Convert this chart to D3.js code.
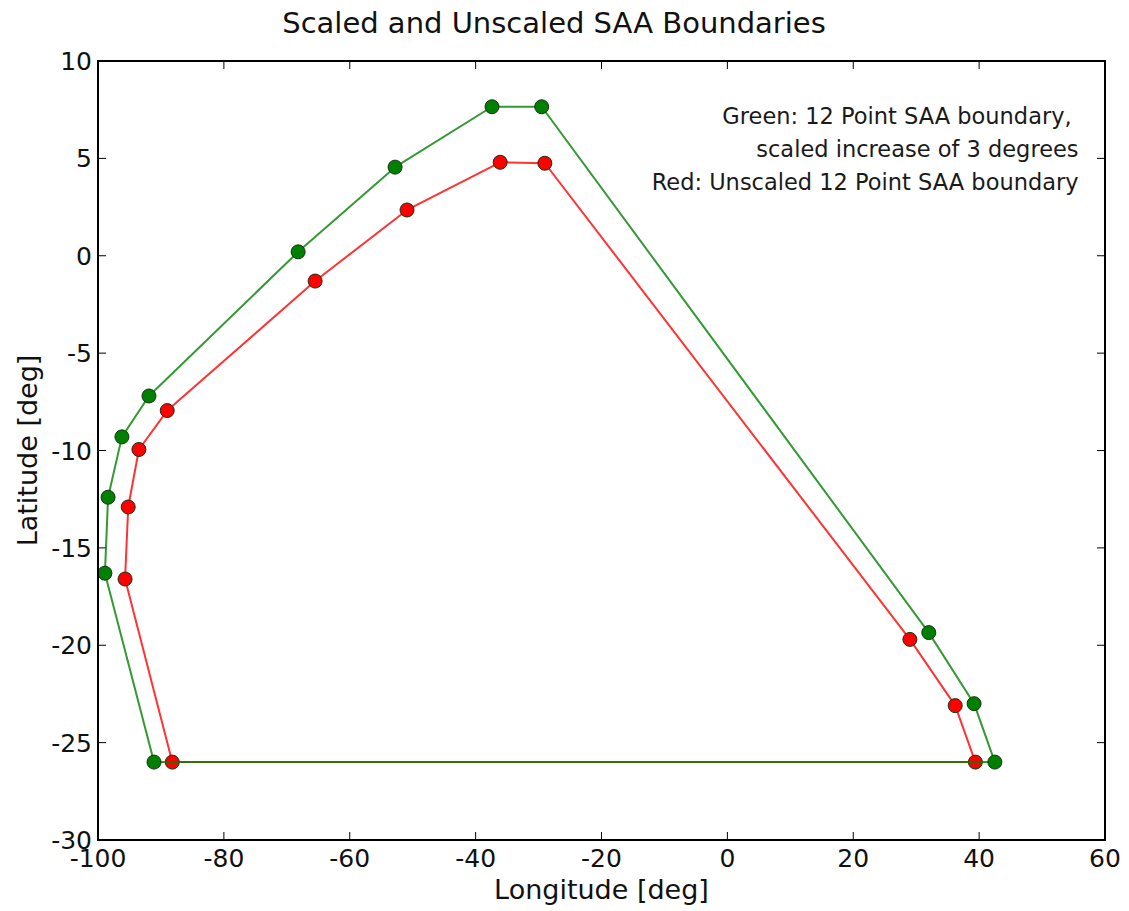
<!DOCTYPE html>
<html>
<head>
<meta charset="utf-8">
<script src="https://cdn.jsdelivr.net/npm/d3@7"></script>
<style>
  body { margin: 0; background: #fff; }
  svg { display: block; font-family: "DejaVu Sans", sans-serif; }
</style>
</head>
<body>
<svg class="chart" width="1129" height="911"></svg>
<script>
// data (lon, lat in degrees)
var greenLon = [-91.1, -98.9, -98.4, -96.2, -91.9, -68.2, -52.8, -37.4, -29.5, 32.0, 39.2, 42.5, -91.1];
var greenLat = [-26.0, -16.3, -12.4, -9.3, -7.2, 0.2, 4.55, 7.65, 7.65, -19.35, -23.0, -26.0, -26.0];
var redLon = [-88.2, -95.7, -95.2, -93.5, -89.0, -65.5, -50.9, -36.1, -29.0, 29.0, 36.2, 39.4, -88.2];
var redLat = [-26.0, -16.6, -12.9, -9.95, -7.95, -1.3, 2.35, 4.8, 4.75, -19.7, -23.1, -26.0, -26.0];
var xTicks = [-100, -80, -60, -40, -20, 0, 20, 40, 60];
var yTicks = [-30, -25, -20, -15, -10, -5, 0, 5, 10];
var noteLines = ["Green: 12 Point SAA boundary,", "scaled increase of 3 degrees", "Red: Unscaled 12 Point SAA boundary"];

var svg = d3.select("svg.chart"),
    margin = {top: 61, right: 24, bottom: 71, left: 98};
var width = +svg.attr("width") - margin.left - margin.right,
    height = +svg.attr("height") - margin.top - margin.bottom;
var g = svg.append("g").attr("transform", "translate(" + margin.left + "," + margin.top + ")");

var x = d3.scaleLinear().domain([-100, 60]).range([0, width]);
var y = d3.scaleLinear().domain([-30, 10]).range([height, 0]);

var zip = function(xs, ys) { return xs.map(function(v, i) { return {lon: v, lat: ys[i]}; }); };
var green = zip(greenLon, greenLat),
    red = zip(redLon, redLat);

var line = d3.line()
    .x(function(d) { return x(d.lon); })
    .y(function(d) { return y(d.lat); });

// title and axis labels (title sits a bit left of the axes centre in the original)
svg.append("text")
    .attr("x", 554).attr("y", 33)
    .attr("text-anchor", "middle").attr("font-size", 29).attr("fill", "#111")
    .text("Scaled and Unscaled SAA Boundaries");
svg.append("text")
    .attr("x", margin.left + width / 2).attr("y", 899)
    .attr("text-anchor", "middle").attr("font-size", 27).attr("fill", "#111")
    .text("Longitude [deg]");
svg.append("text")
    .attr("transform", "translate(37," + (margin.top + height / 2) + ") rotate(-90)")
    .attr("text-anchor", "middle").attr("font-size", 27).attr("fill", "#111")
    .text("Latitude [deg]");

// tick labels
g.selectAll(".xl").data(xTicks).enter().append("text")
    .attr("x", function(d) { return x(d); }).attr("y", height + 27)
    .attr("text-anchor", "middle").attr("font-size", 25).attr("fill", "#111")
    .text(function(d) { return d; });
g.selectAll(".yl").data(yTicks).enter().append("text")
    .attr("x", -6).attr("y", function(d) { return y(d) + 9; })
    .attr("text-anchor", "end").attr("font-size", 25).attr("fill", "#111")
    .text(function(d) { return d; });

// ticks inside, all four sides
var tl = 8;
g.selectAll(".xtb").data(xTicks).enter().append("line")
    .attr("x1", function(d) { return x(d); }).attr("x2", function(d) { return x(d); })
    .attr("y1", height).attr("y2", height - tl).attr("stroke", "#000");
g.selectAll(".xtt").data(xTicks).enter().append("line")
    .attr("x1", function(d) { return x(d); }).attr("x2", function(d) { return x(d); })
    .attr("y1", 0).attr("y2", tl).attr("stroke", "#000");
g.selectAll(".ytl").data(yTicks).enter().append("line")
    .attr("y1", function(d) { return y(d); }).attr("y2", function(d) { return y(d); })
    .attr("x1", 0).attr("x2", tl).attr("stroke", "#000");
g.selectAll(".ytr").data(yTicks).enter().append("line")
    .attr("y1", function(d) { return y(d); }).attr("y2", function(d) { return y(d); })
    .attr("x1", width).attr("x2", width - tl).attr("stroke", "#000");

// series: red first, green over it
function drawSeries(data, col) {
  g.append("path").datum(data)
      .attr("fill", "none").attr("stroke", col).attr("stroke-width", 2)
      .attr("stroke-opacity", 0.8)
      .attr("stroke-linejoin", "round")
      .attr("d", line);
  g.selectAll(null).data(data.slice(0, -1)).enter().append("circle")
      .attr("cx", function(d) { return x(d.lon); })
      .attr("cy", function(d) { return y(d.lat); })
      .attr("r", 7)
      .attr("fill", col).attr("stroke", "#143214").attr("stroke-width", 1);
}
drawSeries(red, "#ff0000");
drawSeries(green, "#008000");

// frame
g.append("rect").attr("width", width).attr("height", height)
    .attr("fill", "none").attr("stroke", "#000").attr("stroke-width", 2);

// note
g.append("text")
    .attr("text-anchor", "end").attr("font-size", 22.5).attr("fill", "#1a1a1a")
    .selectAll("tspan").data(noteLines).enter().append("tspan")
    .attr("x", function(d, i) { return i === 0 ? x(54.7) : x(55.8); })
    .attr("y", function(d, i) { return 63 + i * 33; })
    .text(function(d) { return d; });
</script>
</body>
</html>
